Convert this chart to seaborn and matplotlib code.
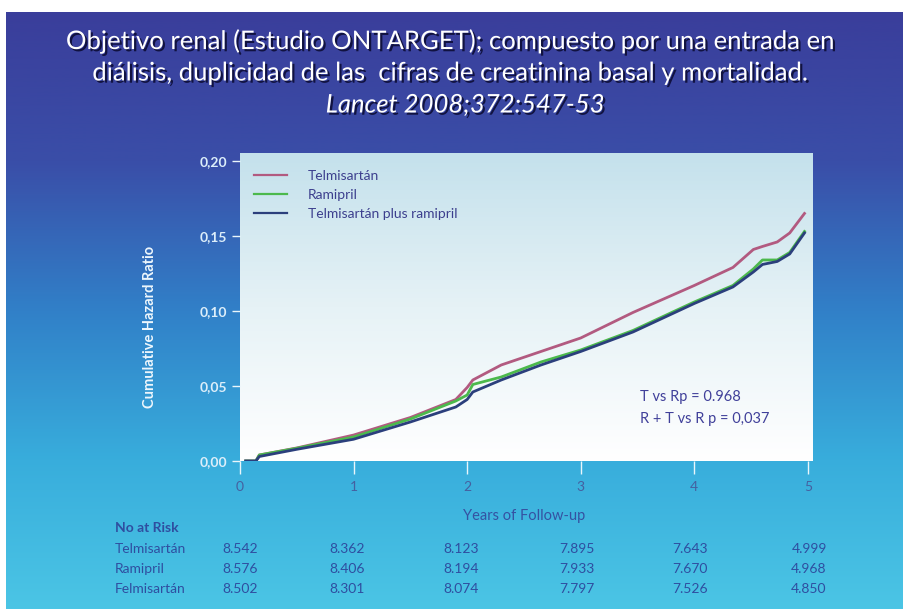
import numpy as np
import pandas as pd
import matplotlib
matplotlib.use("Agg")
import matplotlib.pyplot as plt
import matplotlib.patheffects as pe
from matplotlib.colors import LinearSegmentedColormap
import seaborn as sns

# ---------------- data ----------------
years = [0.05, 0.14, 0.17, 0.5, 1.0, 1.5, 1.9, 2.0, 2.05, 2.3, 2.65, 3.0,
         3.46, 4.0, 4.34, 4.52, 4.6, 4.73, 4.84, 4.97]
telmisartan = [0, 0, 0.004, 0.0087, 0.0173, 0.029, 0.041, 0.049, 0.054, 0.064,
               0.073, 0.082, 0.099, 0.117, 0.129, 0.141, 0.143, 0.146, 0.152, 0.165]
ramipril = [0, 0, 0.004, 0.0085, 0.016, 0.028, 0.040, 0.044, 0.051, 0.056,
            0.066, 0.074, 0.087, 0.106, 0.117, 0.128, 0.134, 0.134, 0.139, 0.153]
telm_plus_ramipril = [0, 0, 0.003, 0.0078, 0.0145, 0.026, 0.036, 0.041, 0.046, 0.054,
                      0.064, 0.073, 0.086, 0.105, 0.116, 0.126, 0.131, 0.133, 0.138, 0.152]
series_names = ["Telmisartán", "Ramipril", "Telmisartán plus ramipril"]

x_ticks = [0, 1, 2, 3, 4, 5]
y_ticks = [0.0, 0.05, 0.10, 0.15, 0.20]
y_tick_labels = ["0,00", "0,05", "0,10", "0,15", "0,20"]

risk_groups = ["Telmisartán", "Ramipril", "Felmisartán"]
risk_telmisartan = ["8.542", "8.362", "8.123", "7.895", "7.643", "4.999"]
risk_ramipril = ["8.576", "8.406", "8.194", "7.933", "7.670", "4.968"]
risk_felmisartan = ["8.502", "8.301", "8.074", "7.797", "7.526", "4.850"]

title_lines = ["Objetivo renal (Estudio ONTARGET); compuesto por una entrada en",
               "diálisis, duplicidad de las  cifras de creatinina basal y mortalidad."]
title_ref = "Lancet 2008;372:547-53"
stats_lines = ["T vs Rp = 0.968", "R + T vs R p = 0,037"]

# ---------------- figure ----------------
W, H = 904, 609
fig = plt.figure(figsize=(W / 100, H / 100), dpi=100, facecolor="white")
FONT = "Lato"
plt.rcParams["font.family"] = [FONT, "DejaVu Sans"]

def fx(px):
    return px / W

def fy(py):
    return 1 - py / H

# slide background gradient
bg = fig.add_axes([fx(6), 0, 1 - fx(6), 1 - 12 / H], zorder=-10)
bg_cmap = LinearSegmentedColormap.from_list(
    "bg", [(0.0, "#3a3e9b"), (0.25, "#3a4ea8"), (0.5, "#3180c8"),
           (0.75, "#38addc"), (1.0, "#4bc5e5")])
bg.imshow(np.linspace(0, 1, 256).reshape(-1, 1), cmap=bg_cmap, aspect="auto",
          extent=[0, 1, 0, 1], origin="upper")
bg.set_axis_off()

# title
shadow = [pe.withSimplePatchShadow(offset=(1.6, -1.6), shadow_rgbFace="#0a0a30", alpha=0.85)]
fig.text(fx(452), fy(41), title_lines[0], ha="center", va="center", color="white",
         fontsize=18.5, path_effects=shadow)
fig.text(fx(452), fy(73), title_lines[1], ha="center", va="center", color="white",
         fontsize=18.5, path_effects=shadow)
fig.text(fx(465), fy(105), title_ref, ha="center", va="center", color="white",
         fontsize=18.5, style="italic", path_effects=shadow)

# plot panel
ax = fig.add_axes([fx(240), fy(461), fx(813) - fx(240), fy(153) - fy(461)])
ax.set_xlim(0, 5.045)
ax.set_ylim(0, 0.2053)
panel_cmap = LinearSegmentedColormap.from_list("panel", ["#c4e1ec", "#e6f2f6", "#ffffff"])
ax.imshow(np.linspace(0, 1, 256).reshape(-1, 1), cmap=panel_cmap, aspect="auto",
          extent=[0, 5.045, 0, 0.2053], origin="upper", zorder=0)

df = pd.concat([
    pd.DataFrame({"t": years, "v": telmisartan, "g": series_names[0]}),
    pd.DataFrame({"t": years, "v": ramipril, "g": series_names[1]}),
    pd.DataFrame({"t": years, "v": telm_plus_ramipril, "g": series_names[2]}),
])
palette = {series_names[0]: "#b25a80", series_names[1]: "#4cb94c", series_names[2]: "#2b3f7c"}
sns.lineplot(data=df, x="t", y="v", hue="g", palette=palette, estimator=None,
             sort=False, linewidth=2.0, ax=ax, zorder=3)

leg = ax.legend(loc="upper left", bbox_to_anchor=(0.0, 0.99), frameon=False,
                handlelength=2.4, handletextpad=1.5, labelspacing=0.5,
                fontsize=10, borderaxespad=0.6)
for txt in leg.get_texts():
    txt.set_color("#3c3f8e")
for line in leg.get_lines():
    line.set_linewidth(1.6)

for sp in ax.spines.values():
    sp.set_visible(False)
ax.set_xlabel("")
ax.set_ylabel("")
ax.set_xticks(x_ticks)
ax.set_xticklabels([str(v) for v in x_ticks])
ax.set_yticks(y_ticks)
ax.set_yticklabels(y_tick_labels)
ax.tick_params(axis="x", direction="out", length=9, width=1.0, color="#eaf6fb",
               pad=5.5, labelsize=10, labelcolor="#4560a0")
ax.tick_params(axis="y", direction="out", length=6, width=1.0, color="#eaf6fb",
               pad=3, labelsize=10, labelcolor="#dceefa")
for lab in ax.get_yticklabels():
    lab.set_fontweight("bold")

# stats annotation
fig.text(fx(640), fy(397), stats_lines[0], ha="left", va="center", color="#40409a", fontsize=10.5)
fig.text(fx(640), fy(419), stats_lines[1], ha="left", va="center", color="#40409a", fontsize=10.5)

# axis titles
fig.text(fx(524), fy(516), "Years of Follow-up", ha="center", va="center",
         color="#3552a2", fontsize=10.5)
fig.text(fx(150), fy(327), "Cumulative Hazard Ratio", ha="center", va="center",
         rotation=90, color="#eef7fd", fontsize=10.5, fontweight="bold")

# number at risk table
tab_color = "#2f4ea0"
fig.text(fx(115), fy(528), "No at Risk", ha="left", va="center", color=tab_color,
         fontsize=10, fontweight="bold")
row_y = [549, 569, 589]
risk_rows = [risk_telmisartan, risk_ramipril, risk_felmisartan]
col_x = [240, 347, 461, 577, 690, 809]
for gname, ry, vals in zip(risk_groups, row_y, risk_rows):
    fig.text(fx(115), fy(ry), gname, ha="left", va="center", color=tab_color, fontsize=10)
    for cx, val in zip(col_x, vals):
        fig.text(fx(cx), fy(ry), val, ha="center", va="center", color=tab_color, fontsize=10)

fig.savefig("out.png", dpi=100, facecolor="white")
